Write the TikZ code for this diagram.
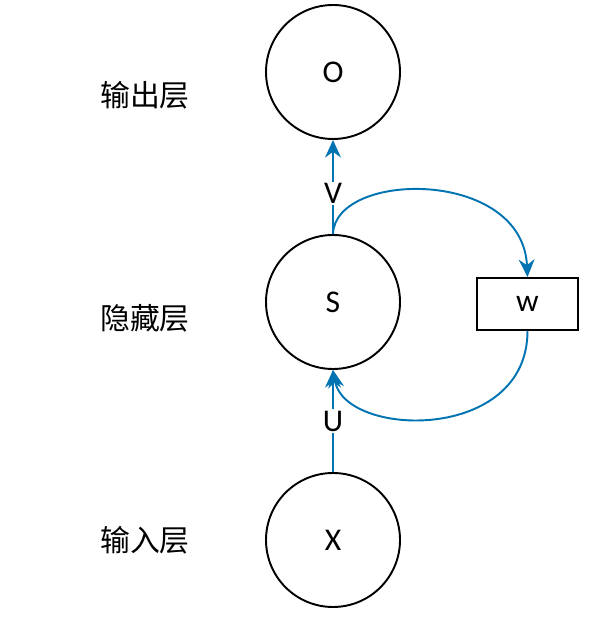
\documentclass[tikz,border=0pt]{standalone}
\usepackage{fontspec}
\setmainfont{Carlito}
\newfontfamily\cjk{Noto Sans CJK SC}
\usetikzlibrary{arrows.meta}
\definecolor{linkblue}{RGB}{0,115,178}
\tikzset{
  neuron/.style={draw,circle,line width=1.1pt,minimum size=2.68cm,inner sep=0pt,font=\fontsize{18}{21}\selectfont},
  wbox/.style={draw,rectangle,line width=1.1pt,minimum width=2.02cm,minimum height=1.04cm,font=\fontsize{18}{21}\selectfont},
  layer/.style={font=\cjk\fontsize{17}{20}\selectfont},
  link/.style={draw=linkblue,line width=1.1pt,-{Stealth[length=10pt,width=9pt]}},
  wlabel/.style={fill=white,inner sep=1pt,font=\fontsize{18}{21}\selectfont}
}
\begin{document}
\begin{tikzpicture}
   \useasboundingbox (0,0) rectangle (12.1,12.36);
   \node[neuron] (o) at (6.66,10.92) {O};
   \node[neuron] (s) at (6.66, 6.32) {S};
   \node[neuron] (x) at (6.66, 1.56) {X};
   \node[wbox]   (w) at (10.55,6.28) {w};
   \node[layer] (outlayer) at (2.9,10.46) {输出层};
   \node[layer] (hidlayer) at (2.9, 6.00) {隐藏层};
   \node[layer] (inlayer)  at (2.9, 1.56) {输入层};
   \draw[link] (s.north) -- node[wlabel,pos=0.43] {V} (o.south);
   \draw[link] (x.north) -- node[wlabel] {U} (s.south);
   \draw[link] (s.north) .. controls (6.70,8.95) and (10.45,9.0) .. (w.north);
   \draw[link] (w.south) .. controls (10.55,3.5) and (6.9,3.6) .. (s.south);
\end{tikzpicture}
\end{document}
